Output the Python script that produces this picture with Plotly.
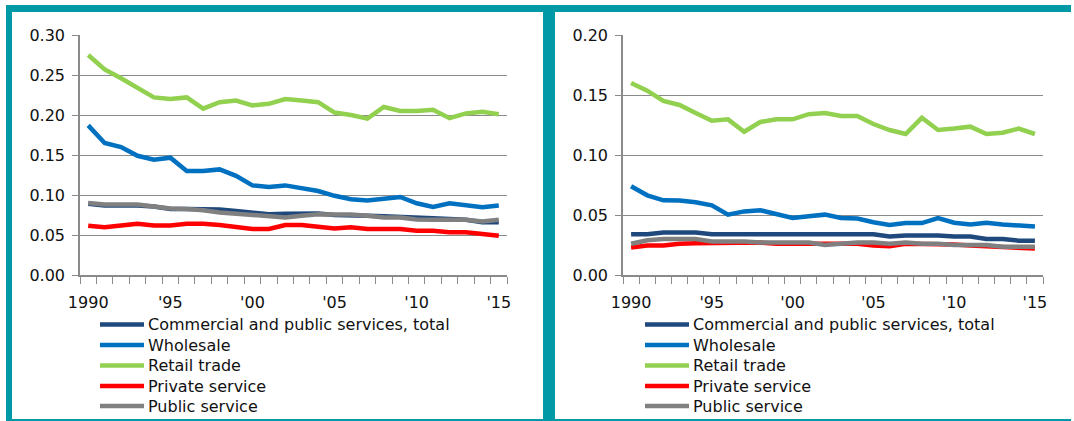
import plotly.graph_objects as go

years = list(range(1990, 2016))
tick_years = [1990, 1995, 2000, 2005, 2010, 2015]
tick_labels = ["1990", "'95", "'00", "'05", "'10", "'15"]

series_names = ["Commercial and public services, total", "Wholesale", "Retail trade",
                "Private service", "Public service"]
series_colors = ["#1F497D", "#0070C0", "#92D050", "#FF0000", "#808080"]

# Left panel
left_total = [0.089, 0.087, 0.087, 0.087, 0.0855, 0.0825, 0.0825, 0.0825, 0.082, 0.080,
              0.078, 0.076, 0.0765, 0.0765, 0.077, 0.075, 0.075, 0.074, 0.0735, 0.073,
              0.072, 0.071, 0.070, 0.069, 0.066, 0.066]
left_wholesale = [0.187, 0.165, 0.160, 0.149, 0.144, 0.1466, 0.130, 0.130, 0.132, 0.124,
                  0.112, 0.110, 0.112, 0.108, 0.105, 0.099, 0.0946, 0.093, 0.095, 0.0975,
                  0.0896, 0.085, 0.0896, 0.0875, 0.0846, 0.087]
left_retail = [0.275, 0.257, 0.246, 0.234, 0.222, 0.220, 0.222, 0.208, 0.216, 0.218,
               0.212, 0.214, 0.220, 0.218, 0.216, 0.203, 0.200, 0.1955, 0.210, 0.205,
               0.205, 0.2066, 0.196, 0.202, 0.204, 0.201]
left_private = [0.0617, 0.0596, 0.062, 0.064, 0.062, 0.062, 0.0642, 0.0642, 0.0625, 0.060,
                0.0575, 0.0575, 0.0625, 0.0625, 0.060, 0.058, 0.0596, 0.0575, 0.0575, 0.0575,
                0.0554, 0.0554, 0.0534, 0.0534, 0.0513, 0.049]
left_public = [0.090, 0.088, 0.088, 0.088, 0.0855, 0.083, 0.0825, 0.081, 0.078, 0.0765,
               0.074, 0.0725, 0.072, 0.074, 0.076, 0.0755, 0.0755, 0.074, 0.072, 0.072,
               0.0695, 0.069, 0.069, 0.069, 0.067, 0.069]

# Right panel
right_total = [0.034, 0.034, 0.0355, 0.0355, 0.0355, 0.034, 0.034, 0.034, 0.034, 0.034,
               0.034, 0.034, 0.034, 0.034, 0.034, 0.034, 0.032, 0.033, 0.033, 0.033,
               0.032, 0.032, 0.030, 0.030, 0.0286, 0.0286]
right_wholesale = [0.074, 0.0664, 0.0622, 0.062, 0.0606, 0.058, 0.0503, 0.053, 0.054, 0.0503,
                   0.0475, 0.049, 0.0503, 0.0475, 0.047, 0.044, 0.0417, 0.0433, 0.0433, 0.0475,
                   0.0436, 0.042, 0.0436, 0.042, 0.041, 0.0405]
right_retail = [0.160, 0.1536, 0.145, 0.1417, 0.135, 0.1286, 0.1297, 0.1194, 0.1275, 0.1297,
                0.1297, 0.134, 0.135, 0.1325, 0.1325, 0.1258, 0.1208, 0.1175, 0.131, 0.1208,
                0.122, 0.1236, 0.1175, 0.1186, 0.122, 0.1175]
right_private = [0.023, 0.0245, 0.0245, 0.026, 0.0265, 0.0265, 0.0265, 0.0265, 0.027, 0.026,
                 0.026, 0.026, 0.026, 0.026, 0.026, 0.0245, 0.024, 0.026, 0.026, 0.026,
                 0.0255, 0.0245, 0.024, 0.023, 0.0228, 0.022]
right_public = [0.026, 0.029, 0.030, 0.030, 0.030, 0.028, 0.028, 0.028, 0.027, 0.027,
                0.027, 0.027, 0.025, 0.026, 0.027, 0.027, 0.026, 0.027, 0.026, 0.026,
                0.025, 0.025, 0.025, 0.0235, 0.0235, 0.0235]

left_series = [left_total, left_wholesale, left_retail, left_private, left_public]
right_series = [right_total, right_wholesale, right_retail, right_private, right_public]

W, H = 1074, 421
FONT = "DejaVu Sans"
TEAL = "#0099A5"
GRID = "#8A8A8A"
TXT = "#111111"

def px(x):
    return x / W

def py(y):
    return 1 - y / H

fig = go.Figure()
for name, color, vals in zip(series_names, series_colors, left_series):
    fig.add_trace(go.Scatter(x=years, y=vals, name=name, mode="lines",
                             line=dict(color=color, width=4.5),
                             xaxis="x", yaxis="y", showlegend=False))
for name, color, vals in zip(series_names, series_colors, right_series):
    fig.add_trace(go.Scatter(x=years, y=vals, name=name, mode="lines",
                             line=dict(color=color, width=4.5),
                             xaxis="x2", yaxis="y2", showlegend=False))

def xaxis_cfg(domain, anchor):
    return dict(domain=domain, anchor=anchor, range=[1989.5, 2015.5],
                tickvals=tick_years, ticktext=tick_labels, ticks="",
                showgrid=False, zeroline=False, showline=True, linecolor=GRID,
                linewidth=1.5,
                tickfont=dict(family=FONT, size=16, color=TXT),
                ticklabelstandoff=12,
                minor=dict(tickvals=[y - 0.5 for y in years] + [2015.5],
                           ticks="outside", ticklen=7, tickcolor=GRID,
                           tickwidth=1, showgrid=False))

def yaxis_cfg(domain, anchor, rng, dtick):
    return dict(domain=domain, anchor=anchor, range=rng, dtick=dtick,
                tickformat=".2f", showgrid=True, gridcolor=GRID, gridwidth=1.3,
                zeroline=False, showline=True, linecolor=GRID, linewidth=1.5,
                ticks="outside", ticklen=6, tickcolor=GRID,
                tickfont=dict(family=FONT, size=16, color=TXT),
                ticklabelstandoff=4)

shapes = [
    dict(type="rect", xref="paper", yref="paper", x0=px(6), x1=px(1071),
         y0=py(12), y1=py(5), fillcolor=TEAL, line=dict(width=0)),
    dict(type="rect", xref="paper", yref="paper", x0=px(6), x1=px(12),
         y0=py(420), y1=py(5), fillcolor=TEAL, line=dict(width=0)),
    dict(type="rect", xref="paper", yref="paper", x0=px(543), x1=px(555),
         y0=py(420), y1=py(5), fillcolor=TEAL, line=dict(width=0)),
    dict(type="rect", xref="paper", yref="paper", x0=px(6), x1=px(1071),
         y0=py(421), y1=py(419), fillcolor=TEAL, line=dict(width=0)),
]
annotations = []

# Legends (one under each panel)
legend_rows = [324.5, 345, 365.5, 386, 406]
for x_line0 in (100, 645):
    for name, color, yrow in zip(series_names, series_colors, legend_rows):
        shapes.append(dict(type="line", xref="paper", yref="paper",
                           x0=px(x_line0), x1=px(x_line0 + 44), y0=py(yrow), y1=py(yrow),
                           line=dict(color=color, width=4.5)))
        annotations.append(dict(xref="paper", yref="paper", x=px(x_line0 + 46), y=py(yrow),
                                xanchor="left", yanchor="middle", showarrow=False,
                                text=name, font=dict(family=FONT, size=16, color=TXT)))

ydom = [py(275), py(35)]
fig.update_layout(
    width=W, height=H,
    margin=dict(l=0, r=0, t=0, b=0, autoexpand=False),
    paper_bgcolor="white", plot_bgcolor="white",
    font=dict(family=FONT, size=16, color=TXT),
    showlegend=False,
    xaxis=xaxis_cfg([px(80), px(507)], "y"),
    yaxis=yaxis_cfg(ydom, "x", [0, 0.30], 0.05),
    xaxis2=xaxis_cfg([px(623), px(1043)], "y2"),
    yaxis2=yaxis_cfg(ydom, "x2", [0, 0.20], 0.05),
    shapes=shapes,
    annotations=annotations,
)

fig.write_html("out.html", config={"displayModeBar": False},
               post_script="document.body.style.margin='0';document.body.style.overflow='hidden';")
